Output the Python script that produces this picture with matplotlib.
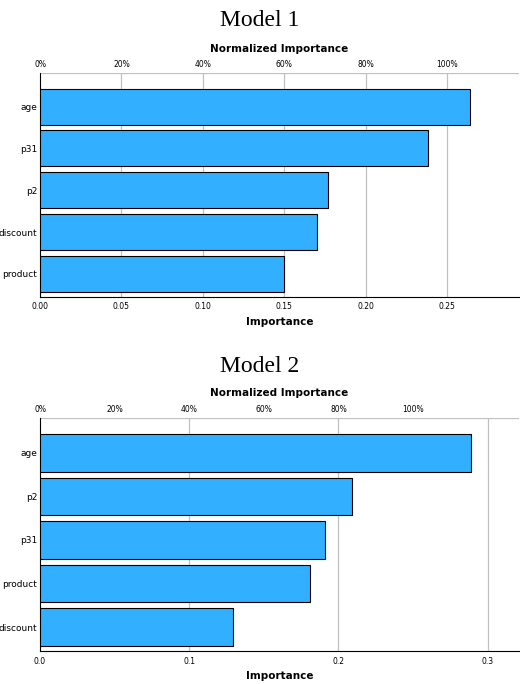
import matplotlib
matplotlib.use("Agg")
import matplotlib.pyplot as plt

cats1 = ["age", "p31", "p2", "discount", "product"]
vals1 = [0.264, 0.238, 0.177, 0.170, 0.150]
cats2 = ["age", "p2", "p31", "product", "discount"]
vals2 = [0.289, 0.209, 0.191, 0.181, 0.129]
bot_ticks1 = [0.0, 0.05, 0.10, 0.15, 0.20, 0.25]
bot_labels1 = ["0.00", "0.05", "0.10", "0.15", "0.20", "0.25"]
bot_ticks2 = [0.0, 0.1, 0.2, 0.3]
bot_labels2 = ["0.0", "0.1", "0.2", "0.3"]
top_labels = ["0%", "20%", "40%", "60%", "80%", "100%"]
top_ticks = [0.0, 0.05, 0.10, 0.15, 0.20, 0.25]

fig = plt.figure(figsize=(5.2, 6.84), dpi=100)
specs = [
    ([0.077, 0.566, 0.921, 0.327], cats1, vals1, bot_ticks1, bot_labels1, 0.294, bot_ticks1[1:], "Model 1", 0.985),
    ([0.077, 0.048, 0.921, 0.341], cats2, vals2, bot_ticks2, bot_labels2, 0.321, bot_ticks2[1:], "Model 2", 0.48),
]
for rect, cats, vals, bt, bl, xmax, grid, title, ty in specs:
    ax = fig.add_axes(rect)
    y = list(range(len(cats)))
    ax.barh(y, vals, height=0.86, color="#33AFFF", edgecolor="black", linewidth=0.8, zorder=3)
    ax.set_yticks(y)
    ax.set_yticklabels(cats, fontsize=6.5)
    ax.set_ylim(len(cats) - 0.5 + 0.05, -0.5 - 0.3)
    ax.set_xlim(0, xmax)
    ax.set_xticks(bt)
    ax.set_xticklabels(bl, fontsize=5.5)
    for g in grid:
        ax.axvline(g, color="#c0c0c0", lw=0.9, zorder=1)
    ax.axhline(-0.5 - 0.3 + 0.001, color="#c0c0c0", lw=0.9, zorder=1)
    ax.tick_params(axis="y", length=0, pad=2)
    ax.tick_params(axis="x", length=0, pad=4)
    ax.spines["right"].set_visible(False)
    ax.spines["top"].set_visible(False)
    ax.set_xlabel("Importance", fontsize=7.5, fontweight="bold", labelpad=4)
    ax2 = ax.twiny()
    ax2.set_xlim(0, xmax)
    ax2.set_xticks(top_ticks)
    ax2.set_xticklabels(top_labels, fontsize=5.5)
    ax2.tick_params(length=0, pad=3)
    for s in ax2.spines.values():
        s.set_visible(False)
    ax2.set_xlabel("Normalized Importance", fontsize=7.5, fontweight="bold", labelpad=6)
    fig.text(0.5, ty, title, ha="center", va="top", fontsize=17, family="Liberation Serif")

fig.savefig("out.png", dpi=100)
